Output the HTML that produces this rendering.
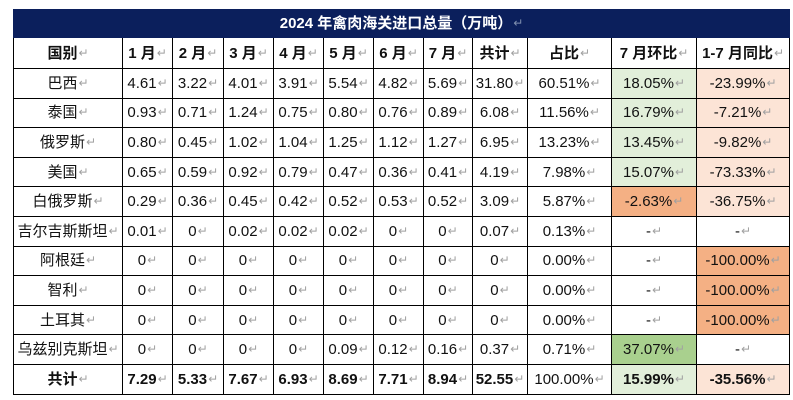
<!DOCTYPE html>
<html><head><meta charset="utf-8">
<style>
html,body{margin:0;padding:0;background:#fff;}
body{width:793px;height:400px;position:relative;overflow:hidden;font-family:"Liberation Sans","Noto Sans CJK SC",sans-serif;}
table{position:absolute;left:13px;top:9px;border-collapse:collapse;table-layout:fixed;width:776px;}
td{border:1px solid #000;padding:0;text-align:center;vertical-align:middle;font-size:15px;color:#111;white-space:nowrap;overflow:hidden;height:28.6px;line-height:18px;}
tr.t td{background:#0b1f5c;color:#fff;font-weight:bold;height:27px;border-color:#0b1f5c;}
tr.h td{font-weight:bold;height:30px;}
tr.s td{font-weight:bold;}
tr.s td.nb{font-weight:normal;}
.m{font-family:"DejaVu Sans",sans-serif;font-size:12px;color:#a0a0a0;font-weight:normal;margin-left:1px;vertical-align:1px;}
tr.t .m{color:#8090b0;}
.lg{background:#e2efda;}
.dg{background:#a9d08e;}
.lo{background:#fce4d6;}
.do{background:#f4b084;}
</style></head><body>
<table>
<colgroup>
<col style="width:109px"><col style="width:50px"><col style="width:51px"><col style="width:50px"><col style="width:50px"><col style="width:50px"><col style="width:50px"><col style="width:49px"><col style="width:55px"><col style="width:84px"><col style="width:85px"><col style="width:93px">
</colgroup>
<tr class="t"><td colspan="12">2024 年禽肉海关进口总量（万吨）<span class="m">↵</span></td></tr>
<tr class="h"><td>国别<span class="m">↵</span></td><td>1 月<span class="m">↵</span></td><td>2 月<span class="m">↵</span></td><td>3 月<span class="m">↵</span></td><td>4 月<span class="m">↵</span></td><td>5 月<span class="m">↵</span></td><td>6 月<span class="m">↵</span></td><td>7 月<span class="m">↵</span></td><td>共计<span class="m">↵</span></td><td>占比<span class="m">↵</span></td><td>7 月环比<span class="m">↵</span></td><td>1-7 月同比<span class="m">↵</span></td></tr>
<tr><td>巴西<span class="m">↵</span></td><td>4.61<span class="m">↵</span></td><td>3.22<span class="m">↵</span></td><td>4.01<span class="m">↵</span></td><td>3.91<span class="m">↵</span></td><td>5.54<span class="m">↵</span></td><td>4.82<span class="m">↵</span></td><td>5.69<span class="m">↵</span></td><td>31.80<span class="m">↵</span></td><td>60.51%<span class="m">↵</span></td><td class="lg">18.05%<span class="m">↵</span></td><td class="lo">-23.99%<span class="m">↵</span></td></tr>
<tr><td>泰国<span class="m">↵</span></td><td>0.93<span class="m">↵</span></td><td>0.71<span class="m">↵</span></td><td>1.24<span class="m">↵</span></td><td>0.75<span class="m">↵</span></td><td>0.80<span class="m">↵</span></td><td>0.76<span class="m">↵</span></td><td>0.89<span class="m">↵</span></td><td>6.08<span class="m">↵</span></td><td>11.56%<span class="m">↵</span></td><td class="lg">16.79%<span class="m">↵</span></td><td class="lo">-7.21%<span class="m">↵</span></td></tr>
<tr><td>俄罗斯<span class="m">↵</span></td><td>0.80<span class="m">↵</span></td><td>0.45<span class="m">↵</span></td><td>1.02<span class="m">↵</span></td><td>1.04<span class="m">↵</span></td><td>1.25<span class="m">↵</span></td><td>1.12<span class="m">↵</span></td><td>1.27<span class="m">↵</span></td><td>6.95<span class="m">↵</span></td><td>13.23%<span class="m">↵</span></td><td class="lg">13.45%<span class="m">↵</span></td><td class="lo">-9.82%<span class="m">↵</span></td></tr>
<tr><td>美国<span class="m">↵</span></td><td>0.65<span class="m">↵</span></td><td>0.59<span class="m">↵</span></td><td>0.92<span class="m">↵</span></td><td>0.79<span class="m">↵</span></td><td>0.47<span class="m">↵</span></td><td>0.36<span class="m">↵</span></td><td>0.41<span class="m">↵</span></td><td>4.19<span class="m">↵</span></td><td>7.98%<span class="m">↵</span></td><td class="lg">15.07%<span class="m">↵</span></td><td class="lo">-73.33%<span class="m">↵</span></td></tr>
<tr><td>白俄罗斯<span class="m">↵</span></td><td>0.29<span class="m">↵</span></td><td>0.36<span class="m">↵</span></td><td>0.45<span class="m">↵</span></td><td>0.42<span class="m">↵</span></td><td>0.52<span class="m">↵</span></td><td>0.53<span class="m">↵</span></td><td>0.52<span class="m">↵</span></td><td>3.09<span class="m">↵</span></td><td>5.87%<span class="m">↵</span></td><td class="do">-2.63%<span class="m">↵</span></td><td class="lo">-36.75%<span class="m">↵</span></td></tr>
<tr><td>吉尔吉斯斯坦<span class="m">↵</span></td><td>0.01<span class="m">↵</span></td><td>0<span class="m">↵</span></td><td>0.02<span class="m">↵</span></td><td>0.02<span class="m">↵</span></td><td>0.02<span class="m">↵</span></td><td>0<span class="m">↵</span></td><td>0<span class="m">↵</span></td><td>0.07<span class="m">↵</span></td><td>0.13%<span class="m">↵</span></td><td>-<span class="m">↵</span></td><td>-<span class="m">↵</span></td></tr>
<tr><td>阿根廷<span class="m">↵</span></td><td>0<span class="m">↵</span></td><td>0<span class="m">↵</span></td><td>0<span class="m">↵</span></td><td>0<span class="m">↵</span></td><td>0<span class="m">↵</span></td><td>0<span class="m">↵</span></td><td>0<span class="m">↵</span></td><td>0<span class="m">↵</span></td><td>0.00%<span class="m">↵</span></td><td>-<span class="m">↵</span></td><td class="do">-100.00%<span class="m">↵</span></td></tr>
<tr><td>智利<span class="m">↵</span></td><td>0<span class="m">↵</span></td><td>0<span class="m">↵</span></td><td>0<span class="m">↵</span></td><td>0<span class="m">↵</span></td><td>0<span class="m">↵</span></td><td>0<span class="m">↵</span></td><td>0<span class="m">↵</span></td><td>0<span class="m">↵</span></td><td>0.00%<span class="m">↵</span></td><td>-<span class="m">↵</span></td><td class="do">-100.00%<span class="m">↵</span></td></tr>
<tr><td>土耳其<span class="m">↵</span></td><td>0<span class="m">↵</span></td><td>0<span class="m">↵</span></td><td>0<span class="m">↵</span></td><td>0<span class="m">↵</span></td><td>0<span class="m">↵</span></td><td>0<span class="m">↵</span></td><td>0<span class="m">↵</span></td><td>0<span class="m">↵</span></td><td>0.00%<span class="m">↵</span></td><td>-<span class="m">↵</span></td><td class="do">-100.00%<span class="m">↵</span></td></tr>
<tr><td>乌兹别克斯坦<span class="m">↵</span></td><td>0<span class="m">↵</span></td><td>0<span class="m">↵</span></td><td>0<span class="m">↵</span></td><td>0<span class="m">↵</span></td><td>0.09<span class="m">↵</span></td><td>0.12<span class="m">↵</span></td><td>0.16<span class="m">↵</span></td><td>0.37<span class="m">↵</span></td><td>0.71%<span class="m">↵</span></td><td class="dg">37.07%<span class="m">↵</span></td><td>-<span class="m">↵</span></td></tr>
<tr class="s"><td>共计<span class="m">↵</span></td><td>7.29<span class="m">↵</span></td><td>5.33<span class="m">↵</span></td><td>7.67<span class="m">↵</span></td><td>6.93<span class="m">↵</span></td><td>8.69<span class="m">↵</span></td><td>7.71<span class="m">↵</span></td><td>8.94<span class="m">↵</span></td><td>52.55<span class="m">↵</span></td><td class="nb">100.00%<span class="m">↵</span></td><td class="lg">15.99%<span class="m">↵</span></td><td class="lo">-35.56%<span class="m">↵</span></td></tr>
</table>
</body></html>
